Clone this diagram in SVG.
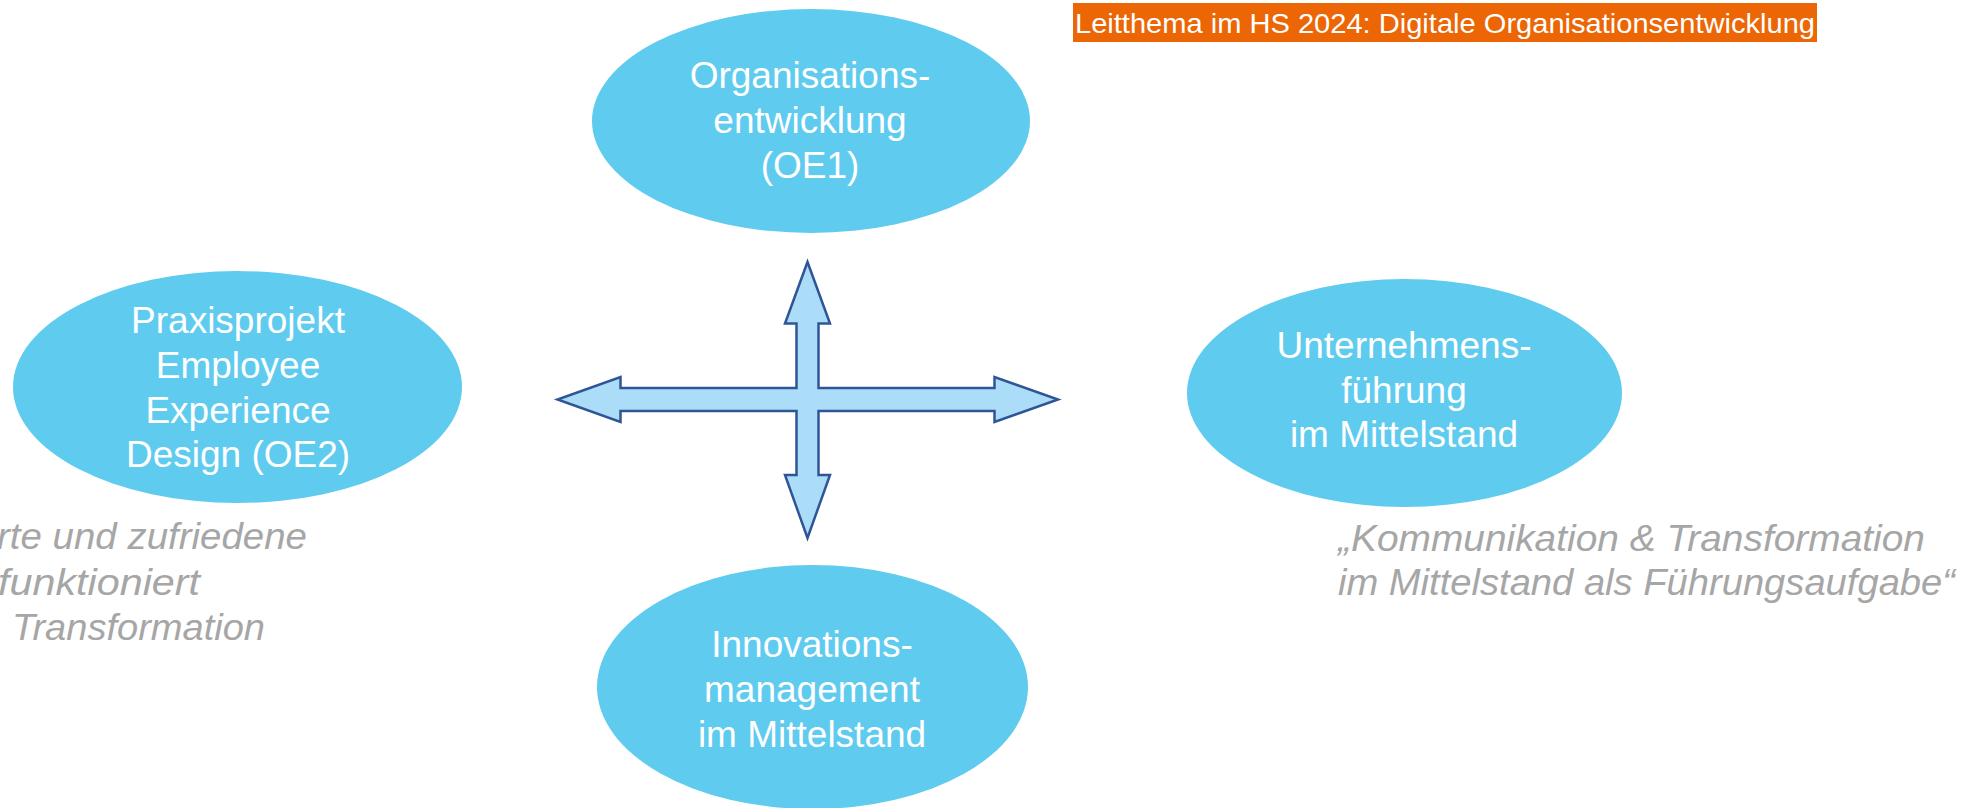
<svg xmlns="http://www.w3.org/2000/svg" width="1986" height="808" viewBox="0 0 1986 808">
<style>
.node ellipse{fill:#5FCBEF;}
.lbl{font-family:"Liberation Sans",Arial,sans-serif;font-size:37px;fill:#FFFFFF;text-anchor:middle;}
.quote{font-family:"Liberation Sans",Arial,sans-serif;font-size:37px;font-style:italic;fill:#A6A6A6;}
.banner{font-family:"Liberation Sans",Arial,sans-serif;font-size:28px;fill:#FFFFFF;}
.cross{fill:#ABDDF8;stroke:#2F5597;stroke-width:2.5;stroke-linejoin:miter;}
</style>
<rect width="1986" height="808" fill="#FFFFFF"/>
<g id="banner">
<rect x="1073" y="3" width="744" height="39" fill="#EC6605"/>
<text class="banner" x="1075" y="33" textLength="740" lengthAdjust="spacingAndGlyphs">Leitthema im HS 2024: Digitale Organisationsentwicklung</text>
</g>
<g id="connectors">
<path class="cross" d="M807.5,262 L830,323.5 L818.5,323.5 L818.5,388 L994.5,388 L994.5,377 L1058,399.5 L994.5,422 L994.5,411 L818.5,411 L818.5,475 L830,475 L807.5,538 L785,475 L796.5,475 L796.5,411 L620.5,411 L620.5,422 L557.5,399.5 L620.5,377 L620.5,388 L796.5,388 L796.5,323.5 L785,323.5 Z"/>
</g>
<g id="node-oe1" class="node">
<ellipse cx="811" cy="121" rx="219" ry="112"/>
<text class="lbl" x="810" y="88">Organisations-</text>
<text class="lbl" x="810" y="133">entwicklung</text>
<text class="lbl" x="810" y="178">(OE1)</text>
</g>
<g id="node-oe2" class="node">
<ellipse cx="237.5" cy="387" rx="224.5" ry="116"/>
<text class="lbl" x="238" y="333">Praxisprojekt</text>
<text class="lbl" x="238" y="378">Employee</text>
<text class="lbl" x="238" y="423">Experience</text>
<text class="lbl" x="238" y="467">Design (OE2)</text>
</g>
<g id="node-ufm" class="node">
<ellipse cx="1404.5" cy="393" rx="217.5" ry="114"/>
<text class="lbl" x="1404" y="358">Unternehmens-</text>
<text class="lbl" x="1404" y="403">führung</text>
<text class="lbl" x="1404" y="447">im Mittelstand</text>
</g>
<g id="node-inno" class="node">
<ellipse cx="812.5" cy="687" rx="215.5" ry="122"/>
<text class="lbl" x="812" y="657">Innovations-</text>
<text class="lbl" x="812" y="702">management</text>
<text class="lbl" x="812" y="747">im Mittelstand</text>
</g>
<g id="quote-left">
<text class="quote" x="-3" y="549" textLength="310" lengthAdjust="spacingAndGlyphs">rte und zufriedene</text>
<text class="quote" x="-2" y="595" textLength="202" lengthAdjust="spacingAndGlyphs">funktioniert</text>
<text class="quote" x="12" y="640" textLength="253" lengthAdjust="spacingAndGlyphs">Transformation</text>
</g>
<g id="quote-right">
<text class="quote" x="1338" y="551" textLength="587" lengthAdjust="spacingAndGlyphs">„Kommunikation &amp; Transformation</text>
<text class="quote" x="1338" y="595" textLength="617" lengthAdjust="spacingAndGlyphs">im Mittelstand als Führungsaufgabe“</text>
</g>
</svg>
